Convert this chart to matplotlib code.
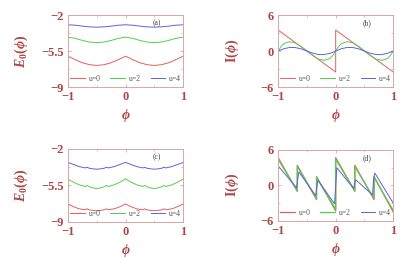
import numpy as np
import matplotlib.pyplot as plt
from matplotlib.ticker import FixedLocator

plt.rcParams['font.family'] = 'Liberation Serif'
plt.rcParams['mathtext.fontset'] = 'custom'
plt.rcParams['mathtext.rm'] = 'Liberation Serif:bold'
plt.rcParams['mathtext.it'] = 'Liberation Serif:italic:bold'
plt.rcParams['mathtext.bf'] = 'Liberation Serif:bold'

# ---- data ----
# (a) ground state energy, smooth
phi_a = [-1, -0.875, -0.75, -0.625, -0.5, -0.375, -0.25, -0.125, 0,
         0.125, 0.25, 0.375, 0.5, 0.625, 0.75, 0.875, 1]
E_a_u0 = [-6.0, -6.34, -6.64, -6.83, -6.9, -6.83, -6.64, -6.34, -6.0,
          -6.34, -6.64, -6.83, -6.9, -6.83, -6.64, -6.34, -6.0]
E_a_u2 = [-4.15, -4.27, -4.47, -4.63, -4.68, -4.63, -4.47, -4.27, -4.15,
          -4.27, -4.47, -4.63, -4.68, -4.63, -4.47, -4.27, -4.15]
E_a_u4 = [-2.95, -2.99, -3.08, -3.15, -3.18, -3.15, -3.08, -2.99, -2.95,
          -2.99, -3.08, -3.15, -3.18, -3.15, -3.08, -2.99, -2.95]

# (b) persistent current
phi_b_u0 = [-1, 0, 0, 1]
I_b_u0 = [3.5, -3.5, 3.5, -3.5]
phi_b = [-1, -0.95, -0.9, -0.8, -0.7, -0.6, -0.5, -0.4, -0.3, -0.2, -0.1, -0.05, 0,
         0.05, 0.1, 0.2, 0.3, 0.4, 0.5, 0.6, 0.7, 0.8, 0.9, 0.95, 1]
I_b_u2 = [0, 0.75, 1.25, 1.55, 1.35, 0.75, 0, -0.75, -1.35, -1.55, -1.25, -0.75, 0,
          0.75, 1.25, 1.55, 1.35, 0.75, 0, -0.75, -1.35, -1.55, -1.25, -0.75, 0]
I_b_u4 = [0, 0.2, 0.38, 0.6, 0.58, 0.36, 0, -0.36, -0.58, -0.6, -0.38, -0.2, 0,
          0.2, 0.38, 0.6, 0.58, 0.36, 0, -0.36, -0.58, -0.6, -0.38, -0.2, 0]

# (c) ground state energy with small cusps at thirds
phi_c = [-1, -0.9, -0.8, -0.7, -0.667, -0.63, -0.55, -0.5, -0.45, -0.37, -0.333,
         -0.3, -0.2, -0.1, 0, 0.1, 0.2, 0.3, 0.333, 0.37, 0.45, 0.5, 0.55, 0.63,
         0.667, 0.7, 0.8, 0.9, 1]
E_c_u0 = [-7.28, -7.55, -7.75, -7.83, -7.74, -7.84, -7.9, -7.92, -7.9, -7.84, -7.74,
          -7.83, -7.75, -7.55, -7.27, -7.55, -7.75, -7.83, -7.74, -7.84, -7.9, -7.92,
          -7.9, -7.84, -7.74, -7.83, -7.75, -7.55, -7.28]
E_c_u2 = [-4.9, -5.2, -5.45, -5.6, -5.5, -5.63, -5.76, -5.79, -5.76, -5.63, -5.5,
          -5.6, -5.45, -5.2, -4.86, -5.2, -5.45, -5.6, -5.5, -5.63, -5.76, -5.79,
          -5.76, -5.63, -5.5, -5.6, -5.45, -5.2, -4.9]
E_c_u4 = [-3.3, -3.5, -3.7, -3.82, -3.76, -3.85, -3.92, -3.94, -3.92, -3.85, -3.76,
          -3.82, -3.7, -3.5, -3.29, -3.5, -3.7, -3.82, -3.76, -3.85, -3.92, -3.94,
          -3.92, -3.85, -3.76, -3.82, -3.7, -3.5, -3.3]

# (d) current, three teeth per flux quantum
phi_d = [-1, -0.667, -0.667, -0.333, -0.333, 0, 0, 0.333, 0.333, 0.667, 0.667, 1]
I_d_u0 = [4.7, -1.0, 3.4, -2.4, 1.5, -4.3, 4.7, -1.0, 3.4, -2.4, 1.5, -4.5]
I_d_u2 = [4.4, -0.9, 3.2, -2.2, 1.35, -4.0, 4.4, -0.9, 3.2, -2.2, 1.35, -4.2]
phi_d_u4 = [-1, -0.68, -0.66, -0.64, -0.35, -0.33, -0.31, -0.02, 0, 0.02,
            0.31, 0.33, 0.35, 0.64, 0.66, 0.68, 1]
I_d_u4 = [3.3, -0.4, 1.0, 2.3, -1.7, -0.6, 0.9, -3.1, 0, 3.0,
          -0.5, 0.4, 0.95, -1.6, 1.2, 2.1, -3.0]

labels = ['u=0', 'u=2', 'u=4']
colors = ['#e06060', '#50d050', '#6060e0']
tick_col = '#b04545'
spine_col = '#dba5a5'

fig = plt.figure(figsize=(4.17, 2.59), dpi=100)
ax_a = fig.add_axes([0.163, 0.664, 0.276, 0.278])
ax_b = fig.add_axes([0.667, 0.664, 0.276, 0.278])
ax_c = fig.add_axes([0.163, 0.143, 0.276, 0.282])
ax_d = fig.add_axes([0.667, 0.147, 0.276, 0.274])


def style(ax, yticks, yminor, ylabel, tag, ylab_x):
    ax.set_xlim(-1, 1)
    ax.set_ylim(yticks[0], yticks[-1])
    ax.set_xticks([-1, 0, 1])
    ax.set_xticklabels(['\u22121', '0', '1'])
    ax.set_yticks(yticks)
    ax.set_yticklabels([('\u2212' + f'{abs(v):g}') if v < 0 else f'{v:g}' for v in yticks])
    ax.xaxis.set_minor_locator(FixedLocator([-0.5, 0.5]))
    ax.yaxis.set_minor_locator(FixedLocator(yminor))
    ax.tick_params(which='both', direction='in', color=spine_col, top=True, right=True,
                   labelcolor=tick_col, labelsize=9, pad=3)
    ax.tick_params(which='major', length=2.5, width=0.6)
    ax.tick_params(which='minor', length=1.5, width=0.5)
    for lab in ax.get_xticklabels() + ax.get_yticklabels():
        lab.set_fontweight('bold')
    for s in ax.spines.values():
        s.set_color(spine_col)
        s.set_linewidth(0.7)
    ax.set_xlabel(r'$\phi$', color=tick_col, fontsize=10, labelpad=3)
    ax.set_ylabel(ylabel, color=tick_col, fontsize=10, labelpad=2)
    ax.yaxis.set_label_coords(ylab_x, 0.5)
    ax.text(0.77, 0.89, tag, transform=ax.transAxes, fontsize=5.5, color='#404040',
            ha='center', va='center')
    ax.legend(loc='lower center', bbox_to_anchor=(0.5, -0.03), ncol=3, frameon=False,
              fontsize=5.5, handlelength=1.9, columnspacing=1.3, handletextpad=0.5,
              labelcolor='#555555', borderpad=0.3)


lw = 0.7
ax_a.plot(phi_a, E_a_u0, color=colors[0], lw=lw, label=labels[0])
ax_a.plot(phi_a, E_a_u2, color=colors[1], lw=lw, label=labels[1])
ax_a.plot(phi_a, E_a_u4, color=colors[2], lw=lw, label=labels[2])
style(ax_a, [-9, -5.5, -2], [-7.25, -3.75], r'$E_0(\phi)$', '(a)', -0.33)

ax_b.plot(phi_b_u0, I_b_u0, color=colors[0], lw=lw, label=labels[0])
ax_b.plot(phi_b, I_b_u2, color=colors[1], lw=lw, label=labels[1])
ax_b.plot(phi_b, I_b_u4, color=colors[2], lw=lw, label=labels[2])
style(ax_b, [-6, 0, 6], [-3, 3], r'$\mathrm{I}(\phi)$', '(b)', -0.32)

ax_c.plot(phi_c, E_c_u0, color=colors[0], lw=lw, label=labels[0])
ax_c.plot(phi_c, E_c_u2, color=colors[1], lw=lw, label=labels[1])
ax_c.plot(phi_c, E_c_u4, color=colors[2], lw=lw, label=labels[2])
style(ax_c, [-9, -5.5, -2], [-7.25, -3.75], r'$E_0(\phi)$', '(c)', -0.33)

ax_d.plot(phi_d, I_d_u0, color=colors[0], lw=lw + 0.2, label=labels[0])
ax_d.plot(phi_d, I_d_u2, color=colors[1], lw=lw + 0.2, label=labels[1])
ax_d.plot(phi_d_u4, I_d_u4, color=colors[2], lw=lw, label=labels[2])
style(ax_d, [-6, 0, 6], [-3, 3], r'$\mathrm{I}(\phi)$', '(d)', -0.32)

fig.savefig('out.png', dpi=100)
